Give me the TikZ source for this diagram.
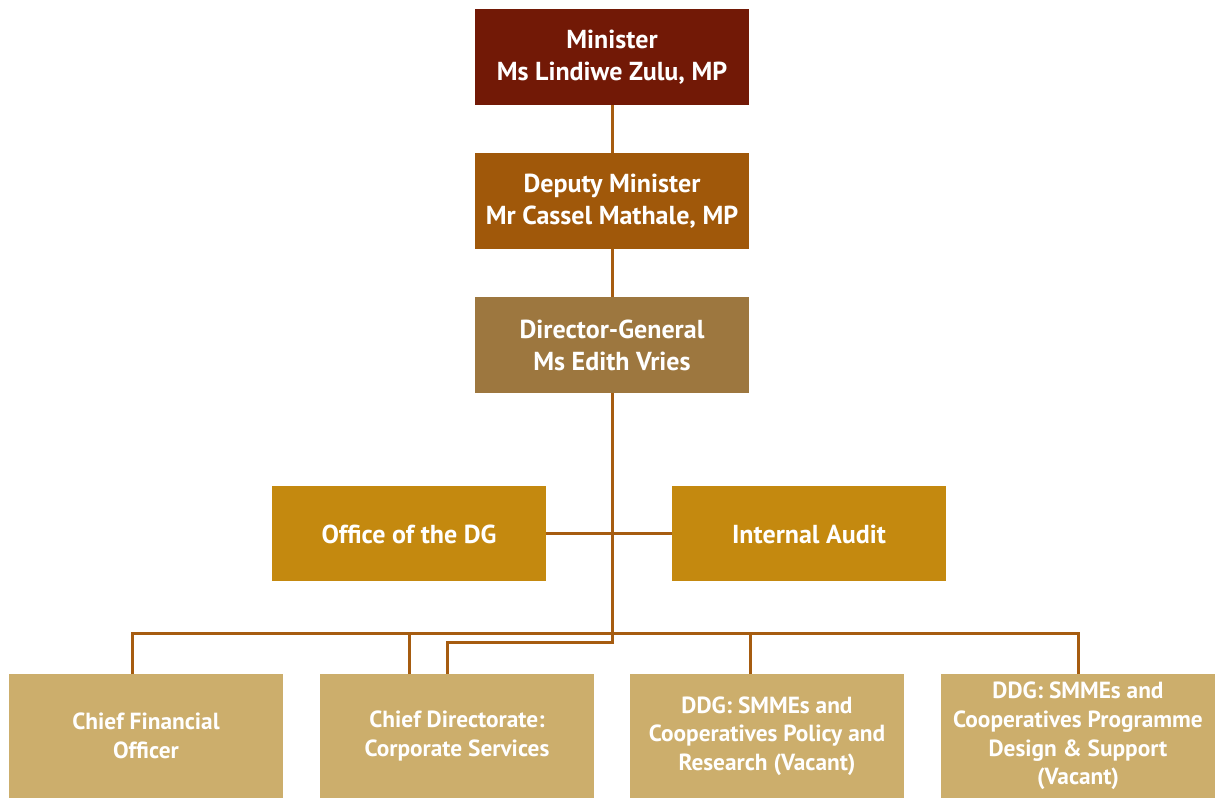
\documentclass[tikz,border=0pt]{standalone}
\usepackage{fontspec}
\setmainfont{PT Sans}
\usepackage{xcolor}
\usetikzlibrary{calc,positioning}

\definecolor{ministerRed}{HTML}{721906}
\definecolor{deputyBrown}{HTML}{A0580A}
\definecolor{dgBrown}{HTML}{9D773F}
\definecolor{officeGold}{HTML}{C4890F}
\definecolor{unitSand}{HTML}{CCAE6C}
\definecolor{linkBrown}{HTML}{A65C10}

\begin{document}
\begin{tikzpicture}[x=0.75pt, y=-0.75pt, node distance=36pt]
  \tikzset{
    orgTopBox/.style={draw=none, inner sep=0pt, outer sep=0pt, align=center, text=white, minimum width=205.5pt, minimum height=72pt, font=\bfseries\fontsize{19.5}{24}\selectfont},
    orgMidBox/.style={orgTopBox, fill=officeGold, minimum height=71.25pt, execute at begin node={\rule{0pt}{15.5pt}}},
    orgUnitBox/.style={draw=none, inner sep=0pt, outer sep=0pt, align=center, text=white, minimum width=205.5pt, minimum height=93pt, font=\bfseries\fontsize{17.5}{21.4}\selectfont, fill=unitSand},
    orgLink/.style={draw=linkBrown, line width=2.25pt}
  }
  \useasboundingbox (0,0) rectangle (1220,798);

% --- Executive chain ---
  \node[orgTopBox, fill=ministerRed] (minister) at (612,57) {Minister\\Ms Lindiwe Zulu, MP};
  \node[orgTopBox, fill=deputyBrown] (deputy) [below=of minister] {Deputy Minister\\Mr Cassel Mathale, MP};
  \node[orgTopBox, fill=dgBrown] (dg) [below=of deputy] {Director-General\\Ms Edith Vries};

  % offices beside the DG line
  \node[orgMidBox] (office) at (409,533.5) {Office of the DG};
  \node[orgMidBox] (audit) at (809,533.5) {Internal Audit};

  % bottom row, runs to the lower edge
  \node[orgUnitBox] (cfo) at (146,736) {Chief Financial\\Officer};
  \node[orgUnitBox] (cds) at (457,736) {Chief Directorate:\\Corporate Services};
  \node[orgUnitBox] (ddgPolicy) at (767,736) {DDG: SMMEs and\\Cooperatives Policy and\\Research (Vacant)};
  \node[orgUnitBox] (ddgDesign) at (1078,736) {DDG: SMMEs and\\Cooperatives Programme\\Design \& Support\\(Vacant)};

% --- Connectors ---
  \coordinate (bus) at (612,633);
  \coordinate (elbow) at (612,642);
  \coordinate (cfoDrop) at ($(cfo.north)+(-14,0)$);
  \coordinate (cdsDrop) at ($(cds.north)+(-48,0)$);
  \coordinate (cdsFeed) at ($(cds.north)+(-10,0)$);
  \coordinate (policyDrop) at ($(ddgPolicy.north)+(-17,0)$);

  \draw[orgLink] (minister.south) -- (deputy.north);
  \draw[orgLink] (deputy.south) -- (dg.north);
  \draw[orgLink] (dg.south) -- (elbow) -| (cdsFeed);
  \draw[orgLink] (office.east) -- (audit.west);

  \draw[orgLink] (cfoDrop) |- (bus) -| (ddgDesign.north);
  \draw[orgLink] (cdsDrop) -- (cdsDrop |- bus);
  \draw[orgLink] (policyDrop) -- (policyDrop |- bus);

\end{tikzpicture}
\end{document}
